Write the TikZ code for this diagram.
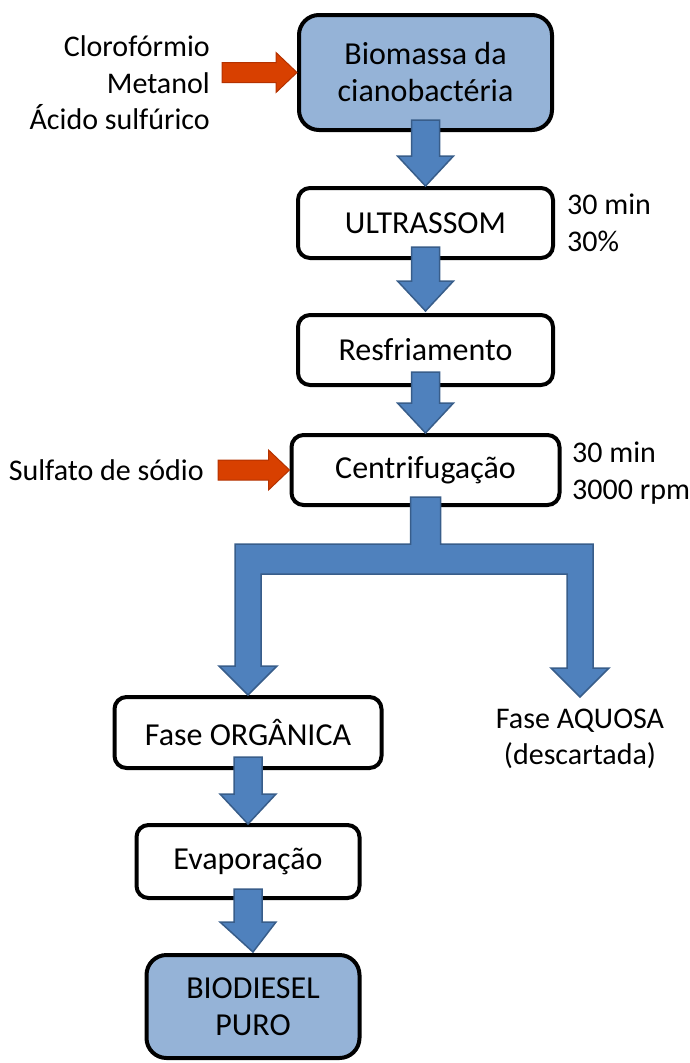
\documentclass[tikz,border=0pt]{standalone}
\usepackage{fontspec}
\setmainfont{Carlito}
\usetikzlibrary{calc}
\definecolor{boxblue}{RGB}{149,179,215}
\definecolor{arrowblue}{RGB}{79,129,189}
\definecolor{arrowedge}{RGB}{56,93,138}
\definecolor{arrowred}{RGB}{216,64,0}
\definecolor{rededge}{RGB}{180,50,0}

% fat arrow pointing down, from #1 to the tip #2
\newcommand\fatdown[2]{%
  \draw[bluearrow] let \p1=#1, \p2=#2 in
    (\x1-14pt,\y1) -- (\x1+14pt,\y1) -- (\x1+14pt,\y2+30pt) -- (\x1+28pt,\y2+30pt)
    -- (\x2,\y2) -- (\x1-28pt,\y2+30pt) -- (\x1-14pt,\y2+30pt) -- cycle;}
% fat arrow pointing right, from #1 to the tip #2
\newcommand\fatright[2]{%
  \draw[redarrow] let \p1=#1, \p2=#2 in
    (\x1,\y2+10pt) -- (\x2-21pt,\y2+10pt) -- (\x2-21pt,\y2+20pt) -- (\x2,\y2)
    -- (\x2-21pt,\y2-20pt) -- (\x2-21pt,\y2-10pt) -- (\x1,\y2-10pt) -- cycle;}

\begin{document}
\begin{tikzpicture}[x=1pt, y=-1pt, font=\fontsize{30pt}{36.5pt}\selectfont]
  \tikzstyle{box} = [rectangle, draw, line width=4pt, rounded corners=12pt, fill=white,
                                    minimum width=255pt, minimum height=70pt, inner sep=0pt,
                                    align=center, font=\fontsize{32pt}{37pt}\selectfont]
  \tikzstyle{endbox} = [box, fill=boxblue, rounded corners=20pt]
  \tikzstyle{note} = [inner sep=0pt]
  \tikzstyle{bluearrow} = [fill=arrowblue, draw=arrowedge, line width=1.5pt, line join=miter]
  \tikzstyle{redarrow} = [fill=arrowred, draw=rededge, line width=1pt, line join=miter]
\useasboundingbox (0,0) rectangle (689,1063);
\node[endbox, minimum width=253pt, minimum height=115pt](bio) at (425.5,72.5){Biomassa da\\cianobactéria};
\node[box, node distance=150.5pt, below of=bio](ultra){ULTRASSOM};
\node[box, node distance=127pt, below of=ultra](resf){Resfriamento};
\node[box, node distance=120pt, below of=resf, minimum width=268pt](centri){Centrifugação};
\node[box, node distance=262.5pt, below of=centri, xshift=-177.5pt, minimum width=267pt, minimum height=71pt](org){Fase ORGÂNICA};
\node[box, node distance=129pt, below of=org, minimum width=223pt, minimum height=73pt](evap){Evaporação};
\node[endbox, node distance=145pt, below of=evap, xshift=5pt, minimum width=213pt, minimum height=103pt](bdsl){BIODIESEL\\PURO};
\node[note, align=center](aq) at (580,739){Fase AQUOSA\\(descartada)};
\coordinate (aqtip) at (580,697);
\node[note, align=right, anchor=east](reag) at (210,83){Clorofórmio\\Metanol\\Ácido sulfúrico};
\node[note, anchor=east](sulf) at (204,470){Sulfato de sódio};
\node[note, align=left, anchor=west](cond1) at (567,223){30 min\\30\%};
\node[note, align=left, anchor=west](cond2) at (572,473){30 min\\3000 rpm};
\fatright{([xshift=12pt]reag.east)}{(bio.west)}
\fatright{([xshift=14pt]sulf.east)}{(centri.west)}
\fatdown{([yshift=12pt]bio.south)}{(ultra.north)}
\fatdown{([yshift=13pt]ultra.south)}{([yshift=2pt]resf.north)}
\fatdown{([yshift=15pt]resf.south)}{(centri.north)}
\fatdown{([yshift=13pt]org.south)}{([yshift=-1pt]evap.north)}
\fatdown{([yshift=11pt]evap.south)}{([yshift=1pt]bdsl.north)}
\draw[bluearrow] let \p1=([yshift=10pt]centri.south), \p2=(org.north), \p3=(aqtip) in
  (\x1-15pt,\y1) -- (\x1+15pt,\y1) -- (\x1+15pt,\y1-47pt) -- (\x3+13pt,\y1-47pt)
  -- (\x3+13pt,\y3+29pt) -- (\x3+29pt,\y3+29pt) -- (\x3,\y3) -- (\x3-29pt,\y3+29pt)
  -- (\x3-13pt,\y3+29pt) -- (\x3-13pt,\y1-77pt) -- (\x2+13pt,\y1-77pt) -- (\x2+13pt,\y2+29pt)
  -- (\x2+29pt,\y2+29pt) -- (\x2,\y2) -- (\x2-29pt,\y2+29pt) -- (\x2-13pt,\y2+29pt)
  -- (\x2-13pt,\y1-47pt) -- (\x1-15pt,\y1-47pt) -- cycle;
\end{tikzpicture}
\end{document}
